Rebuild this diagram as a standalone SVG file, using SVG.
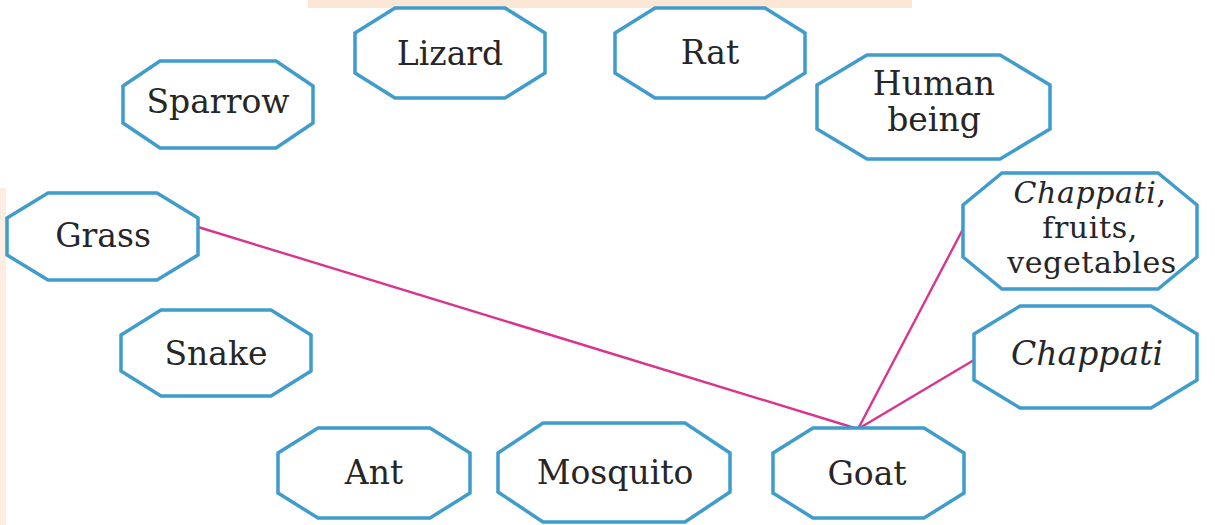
<svg xmlns="http://www.w3.org/2000/svg" width="1215" height="525" viewBox="0 0 1215 525">
<style>
.box{fill:#ffffff;stroke:#3f9ccb;stroke-width:3.5;stroke-linejoin:miter}
.lbl{font-family:"DejaVu Serif","Liberation Serif",serif;font-size:33px;fill:#262626;text-anchor:middle}
.sm{font-size:30px;letter-spacing:0.6px}
.it{font-style:italic}
.edge{stroke:#d9358c;stroke-width:2.4;fill:none}
</style>
<rect x="0" y="0" width="1215" height="525" fill="#ffffff"/>
<rect x="308" y="0" width="604" height="8" fill="#fce6d6"/>
<rect x="0" y="188" width="6" height="337" fill="#fdeee4"/>
<g id="connectors">
<line class="edge" x1="198" y1="227" x2="858" y2="429"/>
<line class="edge" x1="858" y1="429" x2="963" y2="229"/>
<line class="edge" x1="858" y1="429" x2="974" y2="360"/>
</g>
<g id="lizard">
<polygon class="box" points="395,8 505,8 545,33 545,73 505,98 395,98 355,73 355,33"/>
<text class="lbl" x="450" y="65">Lizard</text>
</g>
<g id="rat">
<polygon class="box" points="655,8 765,8 805,33 805,73 765,98 655,98 615,73 615,33"/>
<text class="lbl" x="710" y="64">Rat</text>
</g>
<g id="sparrow">
<polygon class="box" points="160,61 276,61 313,86 313,123 276,148 160,148 123,123 123,86"/>
<text class="lbl" x="218" y="113">Sparrow</text>
</g>
<g id="human">
<polygon class="box" points="867,55 1000,55 1050,85 1050,129 1000,159 867,159 817,129 817,85"/>
<text class="lbl" x="934" y="95">Human</text>
<text class="lbl" x="934" y="131">being</text>
</g>
<g id="grass">
<polygon class="box" points="48,193 157,193 198,218 198,255 157,280 48,280 7,255 7,218"/>
<text class="lbl" x="103" y="247">Grass</text>
</g>
<g id="chappati-fruits">
<polygon class="box" points="1002,173 1158,173 1197,205 1197,257 1158,289 1002,289 963,257 963,205"/>
<text class="lbl sm" x="1090" y="203"><tspan class="it">Chappati</tspan>,</text>
<text class="lbl sm" x="1090" y="238">fruits,</text>
<text class="lbl sm" x="1092" y="273">vegetables</text>
</g>
<g id="snake">
<polygon class="box" points="161,310 271,310 311,335 311,371 271,396 161,396 121,371 121,335"/>
<text class="lbl" x="216" y="365">Snake</text>
</g>
<g id="chappati">
<polygon class="box" points="1020,306 1151,306 1197,334 1197,380 1151,408 1020,408 974,380 974,334"/>
<text class="lbl it" x="1087" y="365">Chappati</text>
</g>
<g id="ant">
<polygon class="box" points="318,428 430,428 470,453 470,493 430,518 318,518 278,493 278,453"/>
<text class="lbl" x="374" y="484">Ant</text>
</g>
<g id="mosquito">
<polygon class="box" points="543,423 685,423 730,453 730,492 685,522 543,522 498,492 498,453"/>
<text class="lbl" x="615" y="484">Mosquito</text>
</g>
<g id="goat">
<polygon class="box" points="813,428 924,428 964,453 964,493 924,518 813,518 773,493 773,453"/>
<text class="lbl" x="867" y="485">Goat</text>
</g>
</svg>
